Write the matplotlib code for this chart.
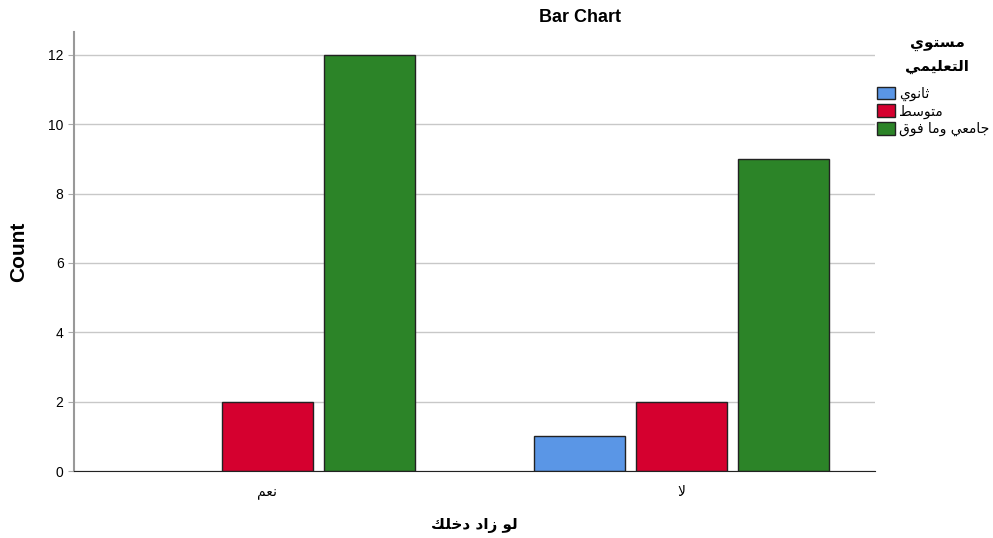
import matplotlib
matplotlib.use("Agg")
import matplotlib.pyplot as plt
import matplotlib.patches as mpatches
import numpy as np

# data
categories = ["نعم", "لا"]
series_names = ["ثانوي", "متوسط", "جامعي وما فوق"]
counts = {
    "ثانوي": [0, 1],
    "متوسط": [2, 2],
    "جامعي وما فوق": [12, 9],
}
yticks = [0, 2, 4, 6, 8, 10, 12]
colors = ["#5A96E6", "#D5002F", "#2C8428"]

# --- minimal arabic shaping (matplotlib does no shaping / bidi) ---
# letter: (isolated, final, initial, medial); 2 forms = right-joining only
FORMS = {
    "ا": ("\uFE8D", "\uFE8E"),
    "ت": ("\uFE95", "\uFE96", "\uFE97", "\uFE98"),
    "ث": ("\uFE99", "\uFE9A", "\uFE9B", "\uFE9C"),
    "ج": ("\uFE9D", "\uFE9E", "\uFE9F", "\uFEA0"),
    "خ": ("\uFEA5", "\uFEA6", "\uFEA7", "\uFEA8"),
    "د": ("\uFEA9", "\uFEAA"),
    "ز": ("\uFEAF", "\uFEB0"),
    "س": ("\uFEB1", "\uFEB2", "\uFEB3", "\uFEB4"),
    "ط": ("\uFEC1", "\uFEC2", "\uFEC3", "\uFEC4"),
    "ع": ("\uFEC9", "\uFECA", "\uFECB", "\uFECC"),
    "ف": ("\uFED1", "\uFED2", "\uFED3", "\uFED4"),
    "ق": ("\uFED5", "\uFED6", "\uFED7", "\uFED8"),
    "ك": ("\uFED9", "\uFEDA", "\uFEDB", "\uFEDC"),
    "ل": ("\uFEDD", "\uFEDE", "\uFEDF", "\uFEE0"),
    "م": ("\uFEE1", "\uFEE2", "\uFEE3", "\uFEE4"),
    "ن": ("\uFEE5", "\uFEE6", "\uFEE7", "\uFEE8"),
    "و": ("\uFEED", "\uFEEE"),
    "ي": ("\uFEF1", "\uFEF2", "\uFEF3", "\uFEF4"),
    "لا": ("\uFEFB", "\uFEFC"),
}


def shape(text):
    # merge lam + alef into one unit
    units = []
    i = 0
    while i < len(text):
        if text[i] == "ل" and i + 1 < len(text) and text[i + 1] == "ا":
            units.append("لا")
            i += 2
        else:
            units.append(text[i])
            i += 1
    out = []
    for k, u in enumerate(units):
        if u not in FORMS:
            out.append(u)
            continue
        prev = units[k - 1] if k > 0 else None
        nxt = units[k + 1] if k + 1 < len(units) else None
        join_prev = prev in FORMS and len(FORMS[prev]) == 4
        join_next = len(FORMS[u]) == 4 and nxt in FORMS
        f = FORMS[u]
        if join_prev and join_next:
            out.append(f[3])
        elif join_prev:
            out.append(f[1])
        elif join_next:
            out.append(f[2])
        else:
            out.append(f[0])
    # right to left: reverse for left-to-right drawing
    return "".join(out)[::-1]


plt.rcParams["font.family"] = ["Liberation Sans", "DejaVu Sans"]

fig = plt.figure(figsize=(9.93, 5.38), dpi=100)
ax = fig.add_axes([0.0745, 0.1245, 0.8065, 0.816])

x = np.arange(len(categories))
width = 0.22
step = 0.246
for j, name in enumerate(series_names):
    vals = counts[name]
    # no outline for empty bars
    lws = [1 if v > 0 else 0 for v in vals]
    ax.bar(x + (j - 1) * step, vals, width, color=colors[j],
           edgecolor="#222222", linewidth=lws, zorder=3)

ax.set_xlim(-0.466, 1.466)
ax.set_ylim(0, 12.66)
ax.set_yticks(yticks)
ax.set_xticks(x)
ax.set_xticklabels([shape(c) for c in categories], fontsize=10, family="DejaVu Sans")
ax.tick_params(axis="y", labelsize=10, length=4, color="#aaaaaa")
ax.tick_params(axis="x", length=0, pad=10)
ax.grid(axis="y", color="#c8c8c8", linewidth=1, zorder=0)

for s in ["top", "right"]:
    ax.spines[s].set_visible(False)
ax.spines["left"].set_color("#999999")
ax.spines["left"].set_linewidth(1.5)
ax.spines["bottom"].set_color("#222222")
ax.spines["bottom"].set_zorder(4)

ax.set_ylabel("Count", fontsize=15, fontweight="bold", labelpad=14)
ax.set_xlabel(shape("لو زاد دخلك"), fontsize=11, fontweight="bold",
              family="DejaVu Sans", labelpad=14)

fig.text(580 / 993, 1 - 17 / 538, "Bar Chart", fontsize=13, fontweight="bold",
         ha="center", va="center")

# legend title, centred over the entries
fig.text(937 / 993, 1 - 44 / 538, shape("مستوي"), fontsize=11, fontweight="bold",
         family="DejaVu Sans", ha="center", va="center")
fig.text(937 / 993, 1 - 67 / 538, shape("التعليمي"), fontsize=11, fontweight="bold",
         family="DejaVu Sans", ha="center", va="center")

handles = [mpatches.Patch(facecolor=colors[j], edgecolor="#222222", linewidth=1)
           for j in range(len(series_names))]
leg = fig.legend(handles, [shape(n) for n in series_names],
                 loc="upper left", bbox_to_anchor=(874 / 993, 1 - 84 / 538),
                 frameon=False, fontsize=10, handlelength=1.3, handleheight=1.0,
                 handletextpad=0.3, labelspacing=0.25, borderaxespad=0,
                 borderpad=0.2)
for t in leg.get_texts():
    t.set_family("DejaVu Sans")

fig.savefig("out.png", dpi=100)
